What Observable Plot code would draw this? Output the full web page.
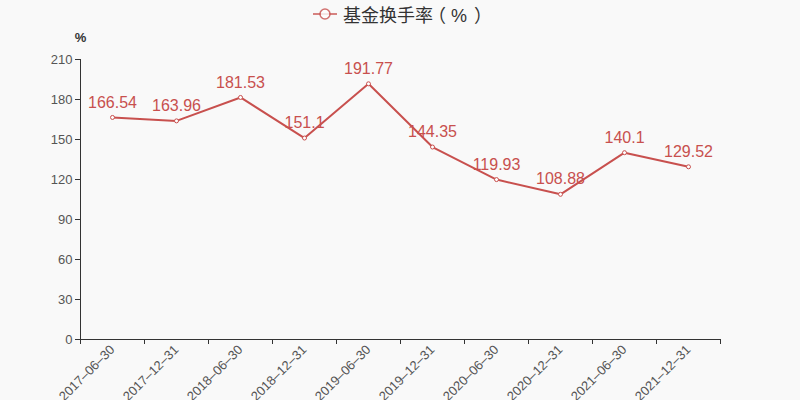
<!DOCTYPE html>
<html>
<head>
<meta charset="utf-8">
<script src="https://cdn.jsdelivr.net/npm/d3@7"></script>
<script src="https://cdn.jsdelivr.net/npm/@observablehq/plot@0.6"></script>
<style>
  html, body { margin: 0; padding: 0; background: #f9f9f9; }
  #wrap { position: relative; width: 800px; height: 400px; font-family: "Liberation Sans", "Noto Sans CJK SC", sans-serif; }
  #legend { position: absolute; top: 0; left: 312px; height: 28px; display: flex; align-items: center; font-size: 18px; color: #333; font-family: "Noto Sans CJK SC", sans-serif; white-space: nowrap; }
  #legend svg { margin-right: 5px; }
  #legend .pl { position: relative; left: -5px; }
  #legend .pr { position: relative; left: 7px; }
  #legend .pc { font-family: "Liberation Sans", sans-serif; }
</style>
</head>
<body>
<div id="wrap">
  <div id="legend"></div>
</div>
<script>
const dates = ["2017-06-30","2017-12-31","2018-06-30","2018-12-31","2019-06-30","2019-12-31","2020-06-30","2020-12-31","2021-06-30","2021-12-31"];
const turnover = [166.54, 163.96, 181.53, 151.1, 191.77, 144.35, 119.93, 108.88, 140.1, 129.52];
const yTicks = [0, 30, 60, 90, 120, 150, 180, 210];
const seriesName = "基金换手率";
const seriesUnit = ["（", "%", "）"];
const unitLabel = "%";

const red = "#c8504e";
const data = dates.map((d, i) => ({date: d, value: turnover[i]}));

const legend = document.getElementById("legend");
legend.innerHTML = `<svg width="26" height="14"><line x1="1" y1="7" x2="25" y2="7" stroke="${red}" stroke-width="2" opacity="0.7"/><circle cx="13" cy="7" r="5" fill="#fff" stroke="${red}" stroke-width="1.5" opacity="0.8"/></svg><span>${seriesName}<span class="pl">${seriesUnit[0]}</span><span class="pc">${seriesUnit[1]}</span><span class="pr">${seriesUnit[2]}</span></span>`;

const chart = Plot.plot({
  width: 800,
  height: 400,
  marginTop: 59,
  marginBottom: 61,
  marginLeft: 80,
  marginRight: 80,
  style: {background: "#f9f9f9", fontFamily: "'Liberation Sans', 'Noto Sans CJK SC', sans-serif", fontSize: "13px"},
  x: {type: "point", domain: dates, padding: 0.5, label: null},
  y: {domain: [0, 210], label: null},
  marks: [
    Plot.axisY({ticks: yTicks, tickSize: 5, tickPadding: 3, stroke: "#333", fill: "#555", fontSize: 13, label: null}),
    Plot.axisX({ticks: dates, tickSize: 5, tickFormat: () => "", dx: -32, stroke: "#333", label: null}),
    Plot.axisX({ticks: [dates[dates.length - 1]], tickSize: 5, tickFormat: () => "", dx: 32, stroke: "#333", label: null}),
    Plot.axisX({ticks: dates, tickSize: 0, tickPadding: 8, tickRotate: -45, tickFormat: d => d.replace(/-/g, "–"), fill: "#555", fontSize: 13, label: null}),
    Plot.ruleY([0], {stroke: "#333"}),
    Plot.ruleX([dates[0]], {dx: -32, stroke: "#333"}),
    Plot.text([unitLabel], {text: d => d, frameAnchor: "top-left", textAnchor: "middle", lineAnchor: "middle", dy: -22, fontWeight: "bold", fontSize: 13, fill: "#333"}),
    Plot.line(data, {x: "date", y: "value", stroke: red, strokeWidth: 2}),
    Plot.dot(data, {x: "date", y: "value", r: 2, fill: "#fff", stroke: red, strokeWidth: 1}),
    Plot.text(data, {x: "date", y: "value", text: d => String(d.value), dy: -15, fill: red, fontSize: 16})
  ]
});
document.getElementById("wrap").appendChild(chart);
</script>
</body>
</html>
